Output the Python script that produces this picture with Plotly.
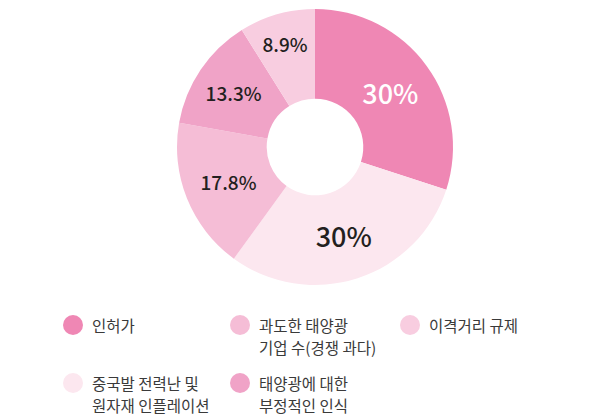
import plotly.graph_objects as go

# slice order, clockwise from 12 o'clock
labels = ["인허가", "중국발 전력난 및<br>원자재 인플레이션", "과도한 태양광<br>기업 수(경쟁 과다)",
          "태양광에 대한<br>부정적인 인식", "이격거리 규제"]
values = [30, 30, 17.8, 13.3, 8.9]
slice_text = ["30%", "30%", "17.8%", "13.3%", "8.9%"]
colors = ["#EF87B4", "#FCE7EF", "#F5BDD6", "#F0A3C7", "#F8CDE0"]
text_colors = ["#ffffff", "#231f20", "#231f20", "#231f20", "#231f20"]
text_sizes = [27, 27, 19, 19, 19]

# legend order as printed under the chart
legend_order = [0, 2, 4, 1, 3]

FONT = "Noto Sans CJK KR"
W, H = 600, 417
OFF = 8  # page body margin pushes the plot right/down

def px_x(x):
    return (x - OFF) / W

def px_y(y):
    return 1 - (y - OFF) / H

fig = go.Figure()
fig.add_trace(go.Pie(
    labels=labels,
    values=values,
    text=slice_text,
    textinfo="text",
    textposition="inside",
    insidetextorientation="horizontal",
    textfont=dict(family=FONT, size=text_sizes, color=text_colors, weight=500),
    marker=dict(colors=colors, line=dict(width=0)),
    hole=0.35,
    sort=False,
    direction="clockwise",
    rotation=0,
    showlegend=False,
    domain=dict(x=[px_x(315 - 138), px_x(315 + 138)], y=[px_y(147 + 138), px_y(147 - 138)]),
))

# hand-made legend: three columns, two rows, one annotation per text line
col_x = [73, 240, 410]
row_y = [325, 383]
line_gap = 22
for i, idx in enumerate(legend_order):
    cx = col_x[i % 3]
    cy = row_y[i // 3]
    fig.add_shape(type="circle", xref="paper", yref="paper",
                  x0=px_x(cx - 10), x1=px_x(cx + 10),
                  y0=px_y(cy + 10), y1=px_y(cy - 10),
                  fillcolor=colors[idx], line=dict(width=0))
    for j, line in enumerate(labels[idx].split("<br>")):
        fig.add_annotation(xref="paper", yref="paper",
                           x=px_x(cx + 17), y=px_y(cy + j * line_gap),
                           xanchor="left", yanchor="middle", align="left",
                           text=line, showarrow=False,
                           font=dict(family=FONT, size=15.5, color="#3a3a3a"))

fig.update_layout(
    width=W, height=H,
    margin=dict(l=0, r=0, t=0, b=0),
    paper_bgcolor="white", plot_bgcolor="white",
)

fig.write_html("out.html")
